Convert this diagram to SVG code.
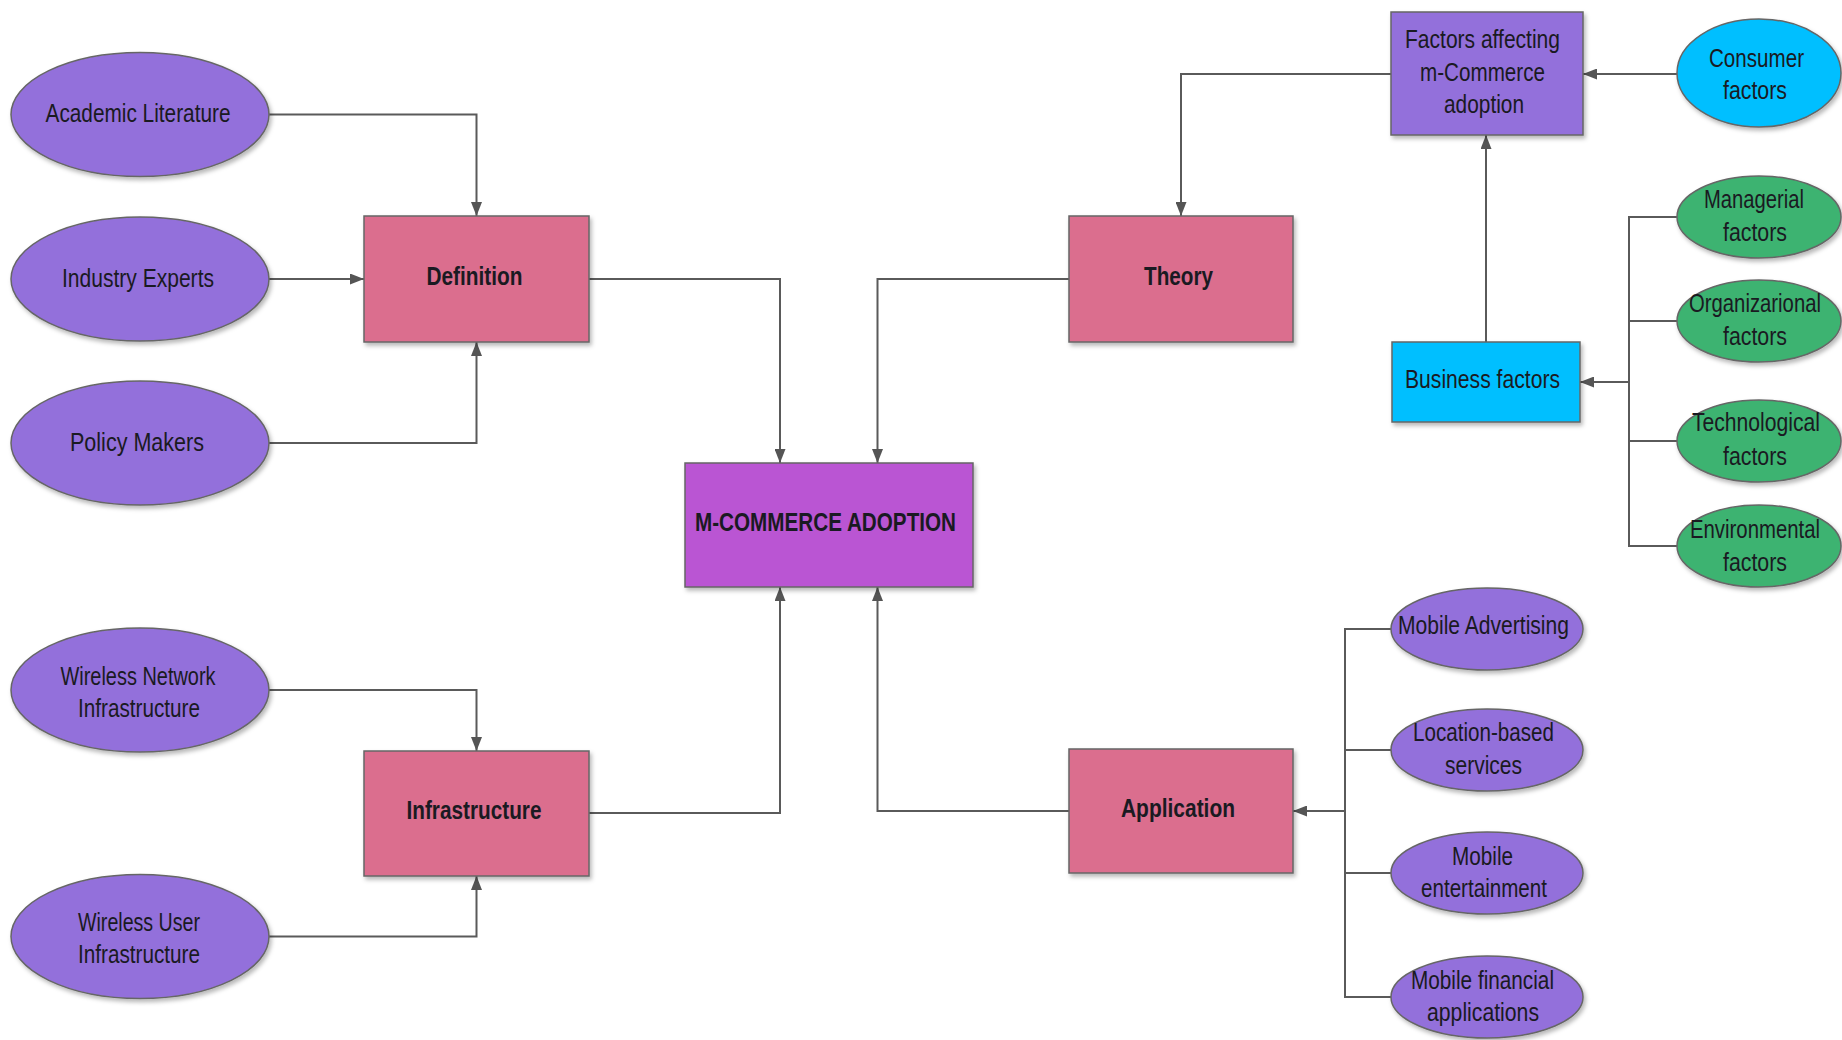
<svg xmlns="http://www.w3.org/2000/svg" width="1842" height="1040" viewBox="0 0 1842 1040">
  <defs>
    <marker id="arrow" viewBox="0 0 14 11" refX="14" refY="5.5" markerWidth="14" markerHeight="11" markerUnits="userSpaceOnUse" orient="auto">
      <path d="M0,0 L14,5.5 L0,11 Z" fill="#555555"/>
    </marker>
    <filter id="shadow" x="-10%" y="-10%" width="125%" height="130%">
      <feDropShadow dx="2" dy="3" stdDeviation="2" flood-color="#000000" flood-opacity="0.28"/>
    </filter>
  </defs>
  <style>
    .shape { stroke: #666666; stroke-width: 1.5; filter: url(#shadow); }
    .purple { fill: #9370DB; }
    .pink { fill: #DB6E8E; }
    .orchid { fill: #BA55D3; }
    .cyan { fill: #00BFFF; }
    .green { fill: #3CB371; }
    text { font-family: "Liberation Sans Narrow", "Liberation Sans", Arial, sans-serif; font-size: 25px; fill: #1a1a22; text-anchor: middle; }
    .bold { font-weight: bold; }
    .conn { fill: none; stroke: #5a5a5a; stroke-width: 2; }
  </style>

  <rect width="1842" height="1040" fill="#ffffff"/>

  <!-- connectors -->
  <g id="connectors">
    <path class="conn" d="M269,114.5 H476.5 V216" marker-end="url(#arrow)"/>
    <path class="conn" d="M269,279 H364" marker-end="url(#arrow)"/>
    <path class="conn" d="M269,443 H476.5 V342" marker-end="url(#arrow)"/>
    <path class="conn" d="M589,279 H780 V463" marker-end="url(#arrow)"/>
    <path class="conn" d="M1069,279 H877.5 V463" marker-end="url(#arrow)"/>
    <path class="conn" d="M589,813 H780 V587" marker-end="url(#arrow)"/>
    <path class="conn" d="M1069,811 H877.5 V587" marker-end="url(#arrow)"/>
    <path class="conn" d="M269,690 H476.5 V751" marker-end="url(#arrow)"/>
    <path class="conn" d="M269,936.5 H476.5 V876" marker-end="url(#arrow)"/>
    <path class="conn" d="M1391,74 H1181 V216" marker-end="url(#arrow)"/>
    <path class="conn" d="M1677,74 H1583" marker-end="url(#arrow)"/>
    <path class="conn" d="M1486,342 V135" marker-end="url(#arrow)"/>
    <!-- business factor branches -->
    <path class="conn" d="M1677,217 H1629 V546 H1677 M1629,321 H1677 M1629,441 H1677"/>
    <path class="conn" d="M1629,382 H1580" marker-end="url(#arrow)"/>
    <!-- application branches -->
    <path class="conn" d="M1391,629 H1345 V997 H1391 M1345,750 H1391 M1345,873 H1391"/>
    <path class="conn" d="M1345,811 H1293" marker-end="url(#arrow)"/>
  </g>

  <!-- left sources: definition -->
  <g id="academic-literature">
    <ellipse class="shape purple" cx="140" cy="114.5" rx="129" ry="62"/>
    <text x="138" y="122" textLength="185" lengthAdjust="spacingAndGlyphs">Academic Literature</text>
  </g>
  <g id="industry-experts">
    <ellipse class="shape purple" cx="140" cy="279" rx="129" ry="62"/>
    <text x="138" y="287" textLength="152" lengthAdjust="spacingAndGlyphs">Industry Experts</text>
  </g>
  <g id="policy-makers">
    <ellipse class="shape purple" cx="140" cy="443" rx="129" ry="62"/>
    <text x="137" y="451" textLength="134" lengthAdjust="spacingAndGlyphs">Policy Makers</text>
  </g>

  <!-- left sources: infrastructure -->
  <g id="wireless-network">
    <ellipse class="shape purple" cx="140" cy="690" rx="129" ry="62"/>
    <text x="138" y="685" textLength="155" lengthAdjust="spacingAndGlyphs">Wireless Network</text>
    <text x="139" y="717" textLength="122" lengthAdjust="spacingAndGlyphs">Infrastructure</text>
  </g>
  <g id="wireless-user">
    <ellipse class="shape purple" cx="140" cy="936.5" rx="129" ry="62"/>
    <text x="139" y="931" textLength="122" lengthAdjust="spacingAndGlyphs">Wireless User</text>
    <text x="139" y="963" textLength="122" lengthAdjust="spacingAndGlyphs">Infrastructure</text>
  </g>

  <!-- main category boxes -->
  <g id="definition">
    <rect class="shape pink" x="364" y="216" width="225" height="126"/>
    <text class="bold" x="474.5" y="285" textLength="96" lengthAdjust="spacingAndGlyphs">Definition</text>
  </g>
  <g id="infrastructure">
    <rect class="shape pink" x="364" y="751" width="225" height="125"/>
    <text class="bold" x="474" y="819" textLength="135" lengthAdjust="spacingAndGlyphs">Infrastructure</text>
  </g>
  <g id="theory">
    <rect class="shape pink" x="1069" y="216" width="224" height="126"/>
    <text class="bold" x="1178.5" y="285" textLength="69" lengthAdjust="spacingAndGlyphs">Theory</text>
  </g>
  <g id="application">
    <rect class="shape pink" x="1069" y="749" width="224" height="124"/>
    <text class="bold" x="1178" y="817" textLength="114" lengthAdjust="spacingAndGlyphs">Application</text>
  </g>

  <!-- centre -->
  <g id="m-commerce-adoption">
    <rect class="shape orchid" x="685" y="463" width="288" height="124"/>
    <text class="bold" x="825.5" y="531" textLength="261" lengthAdjust="spacingAndGlyphs">M-COMMERCE ADOPTION</text>
  </g>

  <!-- factors branch -->
  <g id="factors-affecting">
    <rect class="shape purple" x="1391" y="12" width="192" height="123"/>
    <text x="1482.5" y="48" textLength="155" lengthAdjust="spacingAndGlyphs">Factors affecting</text>
    <text x="1482.5" y="81" textLength="125" lengthAdjust="spacingAndGlyphs">m-Commerce</text>
    <text x="1484" y="113" textLength="80" lengthAdjust="spacingAndGlyphs">adoption</text>
  </g>
  <g id="consumer-factors">
    <ellipse class="shape cyan" cx="1759" cy="73" rx="82" ry="54"/>
    <text x="1756.5" y="67" textLength="95" lengthAdjust="spacingAndGlyphs">Consumer</text>
    <text x="1755" y="99" textLength="64" lengthAdjust="spacingAndGlyphs">factors</text>
  </g>
  <g id="business-factors">
    <rect class="shape cyan" x="1392" y="342" width="188" height="80"/>
    <text x="1482.5" y="388" textLength="155" lengthAdjust="spacingAndGlyphs">Business factors</text>
  </g>
  <g id="managerial-factors">
    <ellipse class="shape green" cx="1759" cy="217" rx="82" ry="41"/>
    <text x="1754" y="208" textLength="100" lengthAdjust="spacingAndGlyphs">Managerial</text>
    <text x="1755" y="241" textLength="64" lengthAdjust="spacingAndGlyphs">factors</text>
  </g>
  <g id="organizational-factors">
    <ellipse class="shape green" cx="1759" cy="321" rx="82" ry="41"/>
    <text x="1755" y="312" textLength="132" lengthAdjust="spacingAndGlyphs">Organizarional</text>
    <text x="1755" y="345" textLength="64" lengthAdjust="spacingAndGlyphs">factors</text>
  </g>
  <g id="technological-factors">
    <ellipse class="shape green" cx="1759" cy="441" rx="82" ry="41"/>
    <text x="1756" y="431" textLength="128" lengthAdjust="spacingAndGlyphs">Technological</text>
    <text x="1755" y="465" textLength="64" lengthAdjust="spacingAndGlyphs">factors</text>
  </g>
  <g id="environmental-factors">
    <ellipse class="shape green" cx="1759" cy="546" rx="82" ry="41"/>
    <text x="1755" y="538" textLength="130" lengthAdjust="spacingAndGlyphs">Environmental</text>
    <text x="1755" y="571" textLength="64" lengthAdjust="spacingAndGlyphs">factors</text>
  </g>

  <!-- application branch -->
  <g id="mobile-advertising">
    <ellipse class="shape purple" cx="1487" cy="629" rx="96" ry="41"/>
    <text x="1483.5" y="634" textLength="171" lengthAdjust="spacingAndGlyphs">Mobile Advertising</text>
  </g>
  <g id="location-based-services">
    <ellipse class="shape purple" cx="1487" cy="750" rx="96" ry="41"/>
    <text x="1483.5" y="741" textLength="141" lengthAdjust="spacingAndGlyphs">Location-based</text>
    <text x="1483.5" y="774" textLength="77" lengthAdjust="spacingAndGlyphs">services</text>
  </g>
  <g id="mobile-entertainment">
    <ellipse class="shape purple" cx="1487" cy="873" rx="96" ry="41"/>
    <text x="1482.5" y="865" textLength="61" lengthAdjust="spacingAndGlyphs">Mobile</text>
    <text x="1484" y="897" textLength="126" lengthAdjust="spacingAndGlyphs">entertainment</text>
  </g>
  <g id="mobile-financial-applications">
    <ellipse class="shape purple" cx="1487" cy="997" rx="96" ry="41"/>
    <text x="1482.5" y="989" textLength="143" lengthAdjust="spacingAndGlyphs">Mobile financial</text>
    <text x="1483" y="1021" textLength="112" lengthAdjust="spacingAndGlyphs">applications</text>
  </g>
</svg>
